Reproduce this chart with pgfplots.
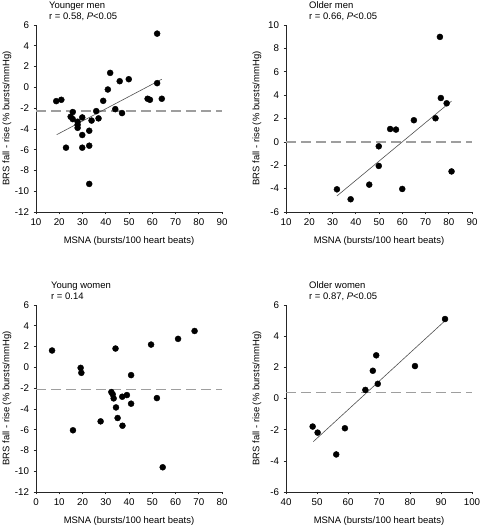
\documentclass[border=0pt]{standalone}
\usepackage{fontspec}
\setmainfont{Liberation Sans}
\usepackage{pgfplots}
\pgfplotsset{compat=1.18}
\definecolor{dashgray}{HTML}{9E9E9E}
\definecolor{trendgray}{HTML}{505050}
\pgfplotsset{
  panel/.style={
    scale only axis, width=186bp, height=187bp,
    anchor=south west, clip=false,
    axis lines*=left, axis line style={-, line width=0.6pt, black!85},
    tick align=outside, major tick length=2.5bp,
    tick style={line width=0.6pt, black!85},
    tick label style={font=\fontsize{9.8}{11}\selectfont},
    label style={font=\fontsize{9.5}{11}\selectfont},
    xlabel={MSNA (bursts/100 heart beats)},
    ylabel={BRS fall - rise (\% bursts/mmHg)},
    xlabel style={at={(axis description cs:0.5,-0.155)}, anchor=center},
    ylabel style={at={(axis description cs:-0.156,0.5)}, anchor=center},
    yticklabel style={anchor=east, xshift=-1bp},
    xticklabel style={anchor=north, yshift=-1bp},
  },
  dots/.style={only marks, mark=*, mark size=3bp, color=black, mark options={solid, fill=black, draw=black}},
  dashref/.style={dashgray, line width=1.3pt, dash pattern=on 10bp off 5bp, no marks},
  trend/.style={trendgray, line width=0.6pt, no marks},
}
\newcommand{\paneltitle}[3]{%
  \node[anchor=base west, inner sep=0pt, font=\fontsize{9.5}{11}\selectfont] at ([xshift=#1, yshift=16.5bp]rel axis cs:0,1) {#2};
  \node[anchor=base west, inner sep=0pt, font=\fontsize{9.5}{11}\selectfont] at ([xshift=#1, yshift=5.5bp]rel axis cs:0,1) {#3};
}
\begin{document}
\begin{tikzpicture}[x=1bp,y=1bp]
\useasboundingbox (0,0) rectangle (480,527);
% Panel 1: Younger men
\begin{axis}[panel, at={(36bp,315bp)},
  xmin=10, xmax=90, ymin=-12, ymax=6,
  xtick={10,20,...,90}, ytick={-12,-10,-8,-6,-4,-2,0,2,4,6},
  xticklabels={10,20,30,40,50,60,70,80,90},
  yticklabels={-12,-10,-8,-6,-4,-2,0,2,4,6}]
\addplot[dashref] coordinates {(10,-2.29) (90,-2.29)};
\addplot[trend] coordinates {(18.9,-4.56) (64.1,0.78)};
\addplot[dots] coordinates {
(18.7,-1.33) (20.9,-1.2) (22.9,-5.81) (24.9,-2.83) (25.8,-2.38) (25.8,-3.06)
(27.9,-3.31) (27.9,-3.6) (27.9,-3.9) (29.9,-2.9) (29.9,-4.59) (29.9,-5.81)
(32.9,-4.18) (32.9,-5.62) (32.9,-9.3) (33.9,-3.2) (35.9,-2.29) (36.9,-2.99)
(38.9,-1.3) (40.9,-0.21) (41.9,1.39) (44.1,-2.1) (46.0,0.59) (47.0,-2.48)
(49.9,0.78) (58.0,-1.1) (59.0,-1.2) (62.1,5.17) (62.1,0.4) (64.1,-1.1)};
\paneltitle{13bp}{Younger men}{r = 0.58, \textit{P}<0.05}
\end{axis}
% Panel 2: Older men
\begin{axis}[panel, at={(286bp,315bp)},
  xmin=10, xmax=90, ymin=-6, ymax=10,
  xtick={10,20,...,90}, ytick={-6,-4,-2,0,2,4,6,8,10},
  xticklabels={10,20,30,40,50,60,70,80,90},
  yticklabels={-6,-4,-2,0,2,4,6,8,10}]
\addplot[dashref] coordinates {(10,0) (90,0)};
\addplot[trend] coordinates {(31.9,-4.63) (81.2,3.49)};
\addplot[dots] coordinates {
(31.9,-4.06) (37.8,-4.91) (45.8,-3.66) (49.9,-0.38) (49.9,-2.06) (54.8,1.1)
(57.3,1.05) (60.0,-4.03) (65.0,1.85) (74.3,2.02) (76.2,8.98) (76.6,3.75)
(79.1,3.3) (81.2,-2.53)};
\paneltitle{23bp}{Older men}{r = 0.66, \textit{P}<0.05}
\end{axis}
% Panel 3: Young women
\begin{axis}[panel, at={(36bp,35bp)},
  xmin=0, xmax=80, ymin=-12, ymax=6,
  xtick={0,10,...,80}, ytick={-12,-10,-8,-6,-4,-2,0,2,4,6},
  xticklabels={0,10,20,30,40,50,60,70,80},
  yticklabels={-12,-10,-8,-6,-4,-2,0,2,4,6}]
\addplot[dashref] coordinates {(0,-2.13) (80,-2.13)};
\addplot[dots] coordinates {
(6.9,1.62) (15.9,-6.06) (19.2,-0.05) (19.5,-0.53) (27.8,-5.2) (32.4,-2.38)
(33.0,-2.6) (33.4,-2.99) (34.2,1.81) (34.4,-3.86) (35.1,-4.88) (37.1,-2.83)
(37.2,-5.62) (39.1,-2.67) (40.9,-0.75) (40.9,-3.5) (49.5,2.19) (52.0,-2.96)
(54.5,-9.62) (61.1,2.74) (68.2,3.5)};
\paneltitle{15bp}{Young women}{r = 0.14}
\end{axis}
% Panel 4: Older women
\begin{axis}[panel, at={(286bp,35bp)},
  xmin=40, xmax=100, ymin=-6, ymax=6,
  xtick={40,50,...,100}, ytick={-6,-4,-2,0,2,4,6},
  xticklabels={40,50,60,70,80,90,100},
  yticklabels={-6,-4,-2,0,2,4,6}]
\addplot[dashref] coordinates {(40,0.38) (100,0.38)};
\addplot[trend] coordinates {(48.8,-2.77) (91.3,4.99)};
\addplot[dots] coordinates {
(48.6,-1.8) (50.2,-2.19) (56.2,-3.59) (59.0,-1.91) (65.6,0.55) (68.0,1.78)
(69.1,2.77) (69.6,0.94) (81.6,2.08) (91.3,5.1)};
\paneltitle{23bp}{Older women}{r = 0.87, \textit{P}<0.05}
\end{axis}
\end{tikzpicture}
\end{document}
